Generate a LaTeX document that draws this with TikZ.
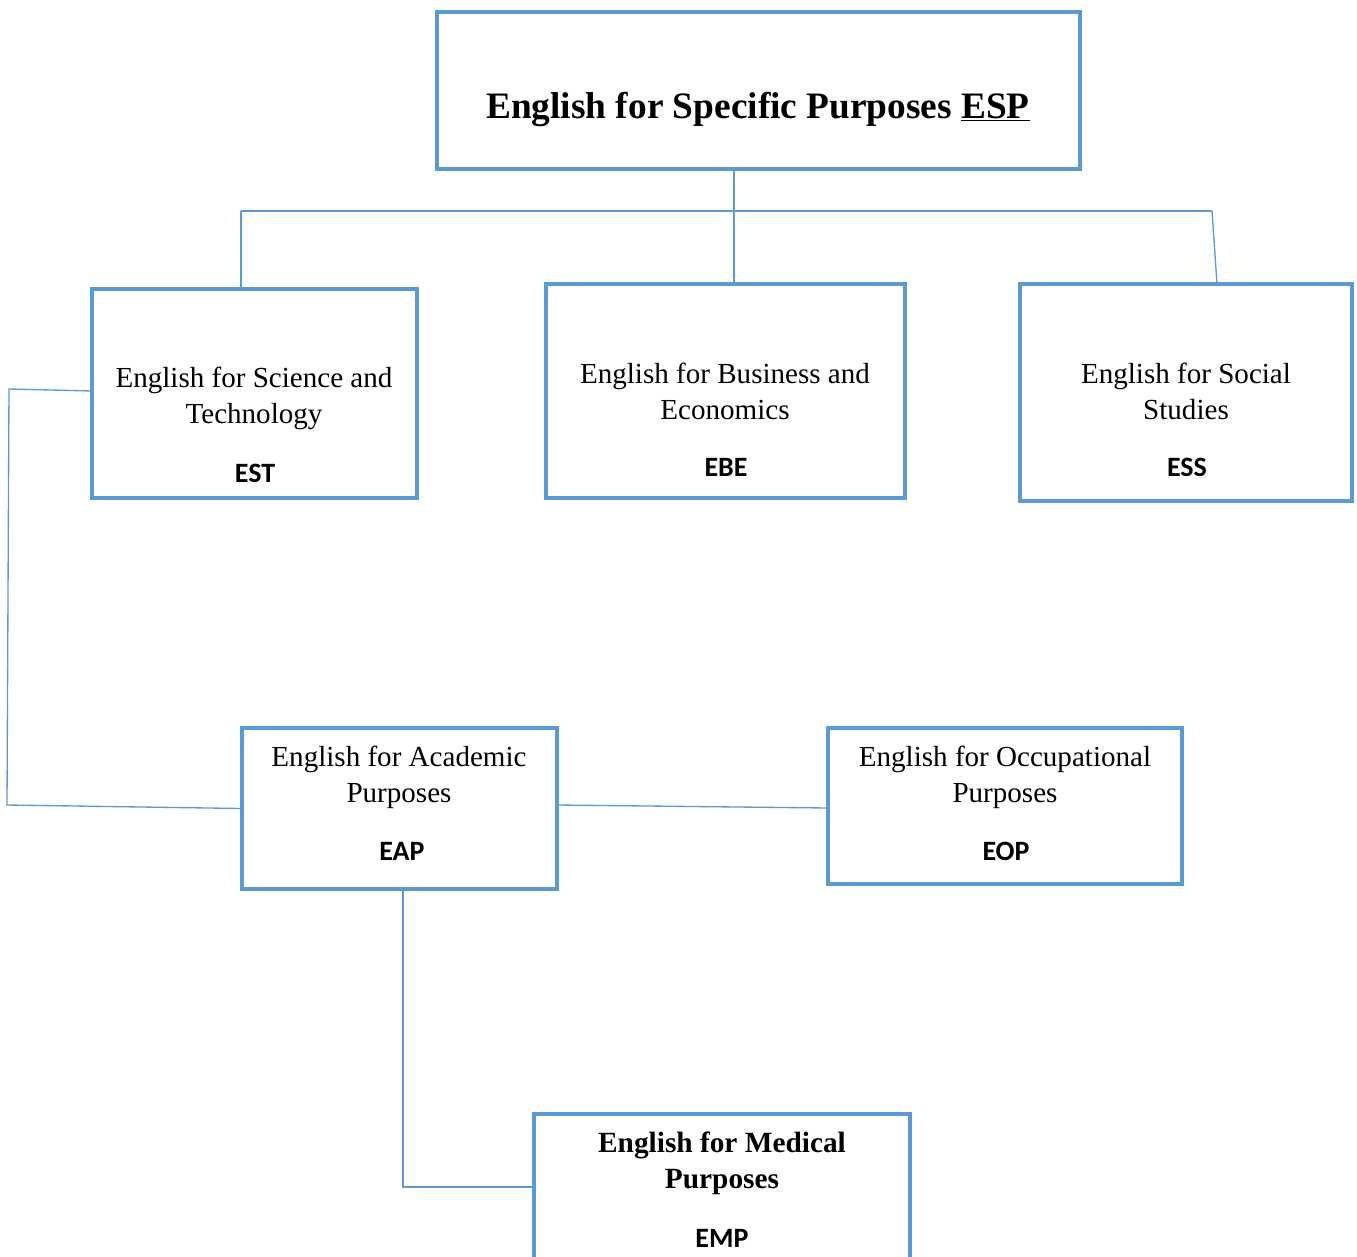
\documentclass[tikz,border=0pt]{standalone}
\usepackage{fontspec}
\setmainfont{Liberation Serif}
\newfontfamily\acrofont{Carlito}
\usetikzlibrary{fit,calc}
\definecolor{boxblue}{HTML}{5B9BD5}
\begin{document}
\begin{tikzpicture}[x=0.75pt,y=-0.75pt,
  box/.style={draw=boxblue,line width=2.4pt,inner sep=0pt,outer sep=0pt,rectangle},
  link/.style={draw=boxblue,line width=1pt},
  txt/.style={font=\fontsize{21.8}{27}\selectfont,align=center,anchor=base,inner sep=0pt},
  btxt/.style={font=\bfseries\fontsize{22}{26.3}\selectfont,align=center,anchor=base,inner sep=0pt},
  acr/.style={font=\acrofont\bfseries\fontsize{21}{25}\selectfont,anchor=base,inner sep=0pt}]
\fill[white] (0,0) rectangle (1357,1257);
\useasboundingbox (0,0) rectangle (1357,1257);
% boxes
\node[box, fit={(437,12) (1080,169)}] (esp) {};
\node[box, fit={(92,289) (417,498)}] (est) {};
\node[box, fit={(546,284) (905,498)}] (ebe) {};
\node[box, fit={(1020,284) (1352,501)}] (ess) {};
\node[box, fit={(242,728) (557,889)}] (eap) {};
\node[box, fit={(828,728) (1182,884)}] (eop) {};
\node[box, fit={(534,1114) (910,1280)}] (emp) {};
% texts
\node[txt, font=\bfseries\fontsize{28}{32}\selectfont] (t-esp) at (758,118) {English for Specific Purposes \underline{ESP}};
\node[txt] (t-est) at (254,423) {English for Science and\\Technology};
\node[acr] (a-est) at (255,482) {EST};
\node[txt] (t-ebe) at (725,419) {English for Business and\\Economics};
\node[acr] (a-ebe) at (726,476) {EBE};
\node[txt] (t-ess) at (1186,419) {English for Social\\Studies};
\node[acr] (a-ess) at (1187,476) {ESS};
\node[txt] (t-eap) at (399,802) {English for Academic\\Purposes};
\node[acr] (a-eap) at (402,860) {EAP};
\node[txt] (t-eop) at (1005,802) {English for Occupational\\Purposes};
\node[acr] (a-eop) at (1006,860) {EOP};
\node[btxt] (t-emp) at (722,1188) {English for Medical\\Purposes};
\node[acr] (a-emp) at (722,1247) {EMP};
% connectors
\coordinate (hubC) at (734,211);
\coordinate (hubL) at (241,211);
\coordinate (hubR) at (1212,211);
\draw[link] (esp.south -| hubC) -- (ebe.north -| hubC);
\draw[link] (hubL) -- (hubR);
\draw[link] (hubL) -- (est.north -| hubL);
\draw[link] (hubR) -- ($(ess.north)+(31,0)$);
\coordinate (lt) at (9,389);
\coordinate (lb) at (7,805);
\draw[link] ($(est.west)+(0,-2.5)$) -- (lt) -- (lb) -- (eap.west);
\draw[link] ($(eap.east)+(0,-3.5)$) -- ($(eop.west)+(0,2)$);
\coordinate (eb) at (403,1187);
\draw[link] (eap.south -| eb) -- (eb) -- (emp.west |- eb);
\end{tikzpicture}
\end{document}
